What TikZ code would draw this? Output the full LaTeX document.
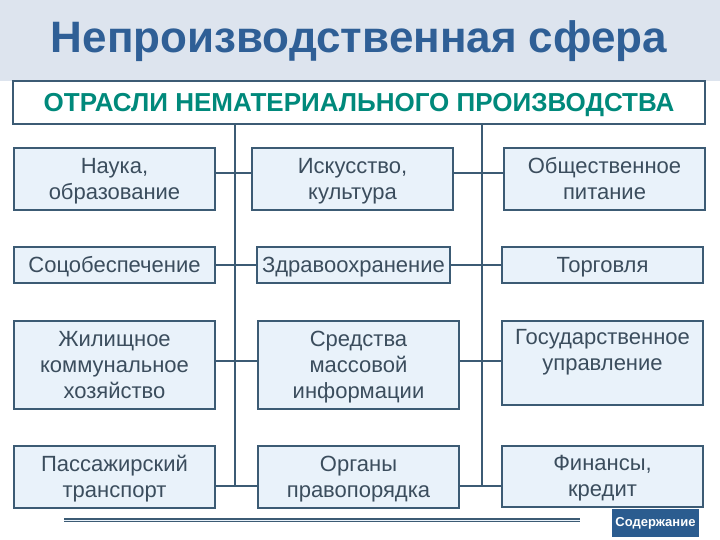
\documentclass[tikz,border=0pt]{standalone}
\usepackage{fontspec}
\setmainfont{Liberation Sans}
\usetikzlibrary{positioning}
\definecolor{band}{HTML}{DDE4EE}
\definecolor{titleblue}{HTML}{2F5F96}
\definecolor{slate}{HTML}{3C5B74}
\definecolor{cellfill}{HTML}{E9F2FA}
\definecolor{cellink}{HTML}{3B4D5D}
\definecolor{tealtext}{HTML}{00897B}
\definecolor{navbtn}{HTML}{2B5C8F}
\tikzset{
  cell/.style={draw=slate,line width=1.8pt,fill=cellfill,text=cellink,text width=190pt,align=center,inner sep=0pt,font=\fontsize{22}{26}\selectfont,
    execute at begin node={\rule{0pt}{22pt}},execute at end node={\rule[-7.8pt]{0pt}{7.8pt}}},
  link/.style={draw=slate,line width=1.8pt}
}

\begin{document}
\begin{tikzpicture}[x=1pt,y=-1pt]
\useasboundingbox (0,0) rectangle (720,540);
\fill[band] (0,0) rectangle (720,81);
\node[font=\bfseries\fontsize{44}{50}\selectfont,text=titleblue,anchor=base] (title) at (359,53) {Непроизводственная сфера};
\node[draw=slate,line width=2.5pt,fill=white,minimum width=692pt,minimum height=43pt,inner sep=0pt,text height=18.5pt,text depth=0pt,font=\bfseries\fontsize{26}{30}\selectfont,text=tealtext] (sectors) at (359,102.5) {ОТРАСЛИ НЕМАТЕРИАЛЬНОГО ПРОИЗВОДСТВА};
% row 1
\node[cell,minimum width=201pt,minimum height=62pt] (science) at (114.5,179) {Наука,\\образование};
\node[cell,minimum width=201pt,minimum height=62pt] (art) at (352.5,179) {Искусство,\\культура};
\node[cell,minimum width=201pt,minimum height=62pt] (catering) at (604.5,179) {Общественное\\питание};
% row 2
\node[cell,minimum width=201pt,minimum height=36pt] (welfare) at (114.5,265) {Соцобеспечение};
\node[cell,minimum width=193pt,minimum height=36pt] (health) at (353.5,265) {Здравоохранение};
\node[cell,minimum width=201pt,minimum height=36pt] (trade) at (602.5,265) {Торговля};
% row 3
\node[cell,minimum width=201pt,minimum height=88pt] (housing) at (114.5,365) {Жилищное\\коммунальное\\хозяйство};
\node[cell,minimum width=201pt,minimum height=88pt] (media) at (358.5,365) {Средства\\массовой\\информации};
\node[cell,minimum width=201pt,minimum height=84pt] (govern) at (602.5,363) {Государственное\\управление\\\mbox{}};
% row 4
\node[cell,minimum width=201pt,minimum height=62pt] (transit) at (114.5,477) {Пассажирский\\транспорт};
\node[cell,minimum width=201pt,minimum height=62pt] (police) at (358.5,477) {Органы\\правопорядка};
\node[cell,minimum width=201pt,minimum height=61pt] (finance) at (602.5,476.5) {Финансы,\\кредит};
% trunks
\coordinate (trunkL) at (235,486);
\coordinate (trunkR) at (482,486);
\draw[link] (sectors.south -| trunkL) -- (trunkL);
\draw[link] (sectors.south -| trunkR) -- (trunkR);
\draw[link] ([yshift=6pt]science.east) -- ([yshift=6pt]art.west);
\draw[link] ([yshift=6pt]art.east) -- ([yshift=6pt]catering.west);
\draw[link] (welfare) -- (health);
\draw[link] (health) -- (trade);
\draw[link] ([yshift=4pt]housing.east) -- ([yshift=4pt]media.west);
\draw[link] ([yshift=4pt]media.east) -- ([yshift=2pt]govern.west);
\draw[link] ([yshift=-9pt]transit.east) -- ([yshift=-9pt]police.west);
\draw[link] ([yshift=-9pt]police.east) -- ([yshift=-9.5pt]finance.west);
% footer
\coordinate (ruleA) at (64,520);
\coordinate (ruleB) at (580,520);
\draw[slate,line width=1.3pt,double=cellfill,double distance=1pt] (ruleA) -- (ruleB);
\node[fill=navbtn,text=white,font=\bfseries\fontsize{13}{15}\selectfont,minimum width=87pt,minimum height=28pt,inner sep=0pt] (contents) at (655.5,523) {Содержание};
\end{tikzpicture}
\end{document}
